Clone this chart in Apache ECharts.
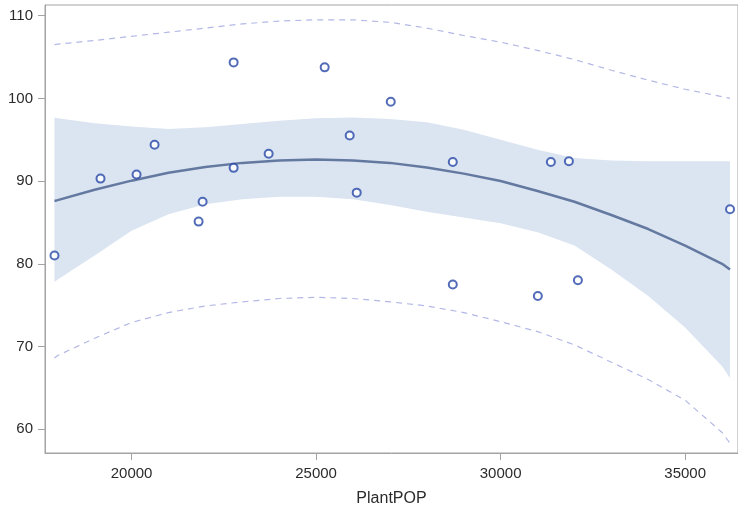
<!DOCTYPE html>
<html>
<head>
<meta charset="utf-8">
<script src="https://cdn.jsdelivr.net/npm/echarts@6/dist/echarts.min.js"></script>
<style>
html,body{margin:0;padding:0;background:#fff;}
#chart{width:738px;height:515px;}
</style>
</head>
<body>
<div id="chart"></div>
<script>
// Observed data
var plantPop = [17912, 19159, 20136, 20624, 21817, 21925, 22766, 22766, 23715, 25233,
                25911, 26101, 27023, 28704, 28704, 31009, 31362, 31850, 32094, 36216];
var yieldVal = [81.0, 90.3, 90.8, 94.4, 85.1, 87.5, 104.35, 91.6, 93.3, 103.75,
                95.5, 88.6, 99.6, 92.3, 77.5, 76.1, 92.3, 92.4, 78.0, 86.6];

// Fit curve and limits, read at these x positions
var curveX  = [17912, 18000, 19000, 20000, 21000, 22000, 23000, 24000, 25000, 26000, 27000,
               28000, 29000, 30000, 31000, 32000, 33000, 34000, 35000, 36000, 36216];
var fitY    = [87.6, 87.7, 88.95, 90.05, 91.0, 91.7, 92.2, 92.5, 92.6, 92.5, 92.2,
               91.65, 90.9, 90.0, 88.8, 87.5, 85.9, 84.2, 82.2, 80.0, 79.3];
var clmUp   = [97.7, 97.6, 97.0, 96.6, 96.3, 96.5, 96.9, 97.3, 97.6, 97.7, 97.5,
               97.1, 96.2, 95.0, 93.8, 92.8, 92.5, 92.4, 92.4, 92.4, 92.4];
var clmLow  = [77.8, 78.1, 81.0, 84.0, 86.0, 87.2, 87.8, 88.1, 88.1, 87.8, 87.1,
               86.3, 85.6, 84.9, 83.8, 82.2, 79.3, 76.1, 72.3, 67.6, 66.2];
var pliUp   = [106.5, 106.55, 107.0, 107.5, 108.0, 108.5, 109.0, 109.35, 109.5, 109.5, 109.2,
               108.5, 107.6, 106.8, 105.8, 104.7, 103.4, 102.2, 101.1, 100.2, 100.0];
var pliLow  = [68.6, 68.9, 71.0, 72.9, 74.1, 74.9, 75.4, 75.8, 75.95, 75.8, 75.4,
               74.9, 74.1, 73.0, 71.8, 70.2, 68.1, 66.0, 63.5, 59.6, 58.3];

var xTicks = [20000, 25000, 30000, 35000];
var yTicks = [60, 70, 80, 90, 100, 110];

function pairs(xs, ys){ return xs.map(function(x,i){ return [x, ys[i]]; }); }

var chart = echarts.init(document.getElementById('chart'), null, {renderer:'canvas'});
var axisColor = '#a3a3a3';
var textColor = '#2b2b2b';
var font = 'Liberation Sans, Arial, sans-serif';

chart.setOption({
  animation: false,
  backgroundColor: '#fff',
  grid: {left: 45, right: 0, top: 5, bottom: 62, show: true, borderColor: axisColor, borderWidth: 1},
  xAxis: {
    type: 'value', min: 17655, max: 36432,
    name: 'PlantPOP', nameLocation: 'middle', nameGap: 38,
    nameTextStyle: {fontSize: 16, color: textColor, fontFamily: font},
    axisLine: {show: true, lineStyle: {color: axisColor}},
    axisTick: {show: true, length: 7, lineStyle: {color: axisColor}, customValues: xTicks},
    axisLabel: {fontSize: 15, color: textColor, fontFamily: font, margin: 13, customValues: xTicks,
                formatter: function(v){ return String(v); }},
    splitLine: {show: false}
  },
  yAxis: {
    type: 'value', min: 57.12, max: 111.29,
    axisLine: {show: true, lineStyle: {color: axisColor}},
    axisTick: {show: true, length: 7, lineStyle: {color: axisColor}, customValues: yTicks},
    axisLabel: {fontSize: 15, color: textColor, fontFamily: font, margin: 12, customValues: yTicks,
                formatter: function(v){ return String(v); }},
    splitLine: {show: false}
  },
  series: [
    {
      type: 'custom',
      data: [0],
      silent: true,
      z: 1,
      renderItem: function(params, api){
        var pts = [];
        for (var i = 0; i < curveX.length; i++) pts.push(api.coord([curveX[i], clmUp[i]]));
        for (var j = curveX.length - 1; j >= 0; j--) pts.push(api.coord([curveX[j], clmLow[j]]));
        return {type: 'polygon', shape: {points: pts}, style: {fill: '#dbe4f1', stroke: null}};
      }
    },
    {
      type: 'line', data: pairs(curveX, pliUp), showSymbol: false, z: 2,
      lineStyle: {color: '#b3b8e6', width: 1.2, type: [6, 5]}
    },
    {
      type: 'line', data: pairs(curveX, pliLow), showSymbol: false, z: 2,
      lineStyle: {color: '#b3b8e6', width: 1.2, type: [6, 5]}
    },
    {
      type: 'line', data: pairs(curveX, fitY), showSymbol: false, z: 3,
      lineStyle: {color: '#6479a0', width: 2.5}
    },
    {
      type: 'scatter', data: pairs(plantPop, yieldVal), z: 4,
      symbol: 'emptyCircle', symbolSize: 8,
      itemStyle: {color: '#2747a6', borderColor: '#2747a6', borderWidth: 1.5}
    }
  ]
});
</script>
</body>
</html>
